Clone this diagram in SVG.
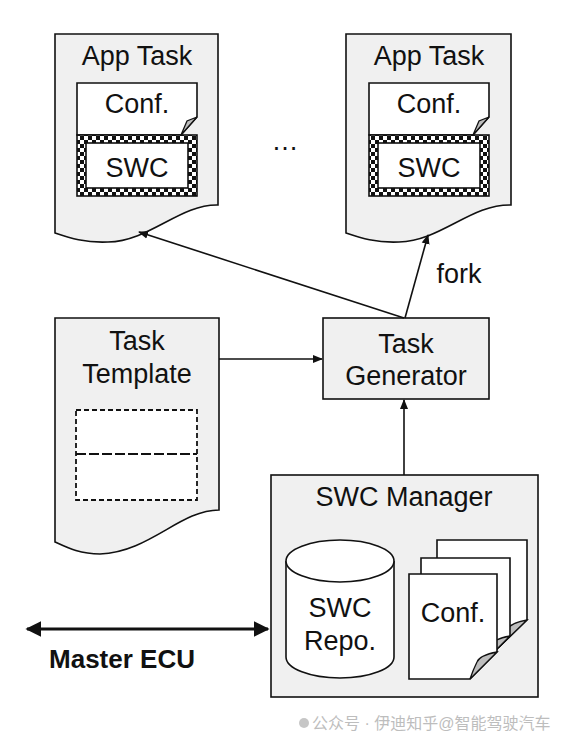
<svg xmlns="http://www.w3.org/2000/svg" width="564" height="747" viewBox="0 0 564 747">
<style>
.t{font-family:"Liberation Sans",Arial,sans-serif;font-size:27px;fill:#111;text-anchor:middle}
.b{font-weight:bold;font-size:26px}
.doc{fill:#f0f0f0;stroke:#111;stroke-width:1.6}
.ln{fill:none;stroke:#111;stroke-width:1.6}
.wh{fill:#fff;stroke:#111;stroke-width:1.6}
.fold{fill:#bdbdbd;stroke:#111;stroke-width:1.3}
</style>
<defs>
<pattern id="chk" width="8" height="8" patternUnits="userSpaceOnUse">
<rect width="8" height="8" fill="#fff"/>
<rect width="4" height="4" fill="#111"/>
<rect x="4" y="4" width="4" height="4" fill="#111"/>
</pattern>
<marker id="ah" viewBox="0 0 10 10" refX="9" refY="5" markerWidth="10" markerHeight="10" markerUnits="userSpaceOnUse" orient="auto-start-reverse">
<path d="M0,1 L10,5 L0,9 Z" fill="#111"/>
</marker>
<marker id="ah2" viewBox="0 0 10 10" refX="9" refY="5" markerWidth="5" markerHeight="5" orient="auto-start-reverse">
<path d="M0,0 L10,5 L0,10 Z" fill="#111"/>
</marker>
</defs>
<rect width="564" height="747" fill="#fff"/>

<g id="app-task-1">
<path class="doc" d="M55,34 H218 V205 C180,204 150,241 108,242 C85,243 70,238 55,233 Z"/>
<text class="t" x="137" y="65">App Task</text>
<path class="wh" d="M77,135 V83 H197 V117 L181,135 Z"/>
<path class="fold" d="M197,117 L187,121 L181,135 Z"/>
<text class="t" x="137" y="113">Conf.</text>
<rect x="77" y="135" width="120" height="61" fill="url(#chk)" stroke="#111" stroke-width="1.6"/>
<rect class="wh" x="86" y="143" width="102" height="45"/>
<text class="t" x="137" y="177">SWC</text>
</g>

<g id="app-task-2" transform="translate(291,0)">
<path class="doc" d="M55,34 H220 V205 C180,204 150,241 108,242 C85,243 70,238 55,233 Z"/>
<text class="t" x="138" y="65">App Task</text>
<path class="wh" d="M78,135 V83 H198 V117 L182,135 Z"/>
<path class="fold" d="M198,117 L188,121 L182,135 Z"/>
<text class="t" x="138" y="113">Conf.</text>
<rect x="78" y="135" width="120" height="61" fill="url(#chk)" stroke="#111" stroke-width="1.6"/>
<rect class="wh" x="87" y="143" width="102" height="45"/>
<text class="t" x="138" y="177">SWC</text>
</g>

<g id="ellipsis">
<text class="t" x="285" y="150">…</text>
</g>

<g id="task-template">
<path class="doc" d="M55,318 H219 V510 C180,510 150,552 100,554 C80,554 68,548 55,542 Z"/>
<text class="t" x="137" y="350">Task</text>
<text class="t" x="137" y="383">Template</text>
<rect x="76" y="410" width="121" height="90" fill="#fff" stroke="#111" stroke-width="1.8" stroke-dasharray="5,3"/>
<line x1="76" y1="454" x2="197" y2="454" stroke="#111" stroke-width="1.8" stroke-dasharray="10,3"/>
</g>

<g id="task-generator">
<rect class="doc" x="323" y="318" width="166" height="81"/>
<text class="t" x="406" y="353">Task</text>
<text class="t" x="406" y="385">Generator</text>
</g>

<g id="swc-manager">
<rect class="doc" x="271" y="475" width="267" height="222"/>
<text class="t" x="404" y="506">SWC Manager</text>
<path class="wh" d="M286,561 V657 A54,21 0 0 0 394,657 V561"/>
<ellipse class="wh" cx="340" cy="561" rx="54" ry="21"/>
<text class="t" x="340" y="617">SWC</text>
<text class="t" x="340" y="650">Repo.</text>
<path class="wh" d="M437,540 H527 V620 L499,647 H437 Z"/>
<path class="fold" d="M527,620 Q510,623 507,630 Q503,638 499,647 Z"/>
<path class="wh" d="M421,558 H510 V636 L482,664 H421 Z"/>
<path class="fold" d="M510,636 Q493,639 490,646 Q486,655 482,664 Z"/>
<path class="wh" d="M409,574 H497 V652 L470,679 H409 Z"/>
<path class="fold" d="M497,652 Q480,655 477,662 Q473,670 470,679 Z"/>
<text class="t" x="453" y="622">Conf.</text>
</g>

<g id="master-ecu">
<text class="t b" x="122" y="668">Master ECU</text>
</g>

<g id="connectors">
<line class="ln" x1="404" y1="318" x2="139" y2="232" marker-end="url(#ah)"/>
<line class="ln" x1="405" y1="318" x2="428" y2="235" marker-end="url(#ah)"/>
<text class="t" x="459" y="283">fork</text>
<line class="ln" x1="219" y1="359" x2="322" y2="359" marker-end="url(#ah)"/>
<line class="ln" x1="404" y1="475" x2="404" y2="400" marker-end="url(#ah)"/>
<line x1="27" y1="629" x2="268" y2="629" stroke="#111" stroke-width="3.2" marker-start="url(#ah2)" marker-end="url(#ah2)"/>
</g>

<g id="watermark" opacity="0.55">
<circle cx="304" cy="723" r="5" fill="#999"/>
<text x="312" y="729" font-family="'Liberation Sans','Noto Sans CJK SC',sans-serif" font-size="16" fill="#888">公众号 · 伊迪知乎@智能驾驶汽车</text>
</g>
</svg>
